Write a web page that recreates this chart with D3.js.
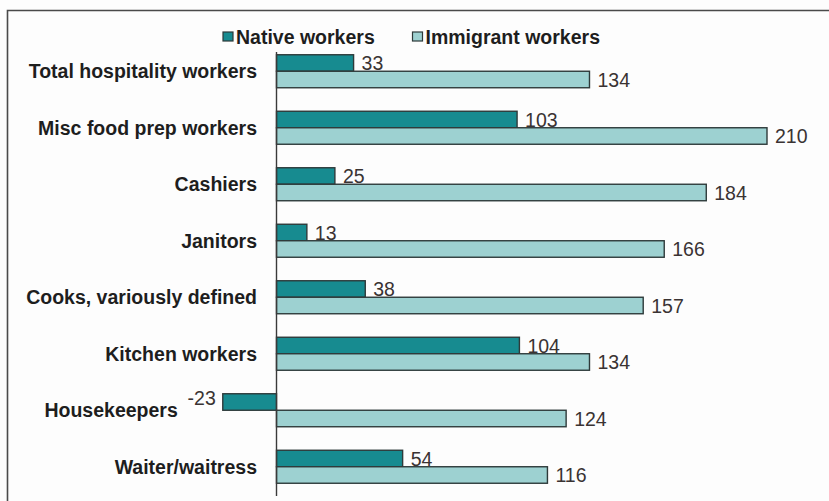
<!DOCTYPE html>
<html>
<head>
<meta charset="utf-8">
<script src="https://cdn.jsdelivr.net/npm/d3@7"></script>
<style>
  html, body { margin: 0; padding: 0; background: #fdfdfd; }
  svg { display: block; }
</style>
</head>
<body>
<svg id="chart" width="829" height="501"></svg>
<script>
// Occupations, top to bottom
const categories = [
  "Total hospitality workers",
  "Misc food prep workers",
  "Cashiers",
  "Janitors",
  "Cooks, variously defined",
  "Kitchen workers",
  "Housekeepers",
  "Waiter/waitress"
];
const seriesNames = ["Native workers", "Immigrant workers"];
const nativeValues = [33, 103, 25, 13, 38, 104, -23, 54];
const immigrantValues = [134, 210, 184, 166, 157, 134, 124, 116];

const colors = { "Native workers": "#178b90", "Immigrant workers": "#9dd1d1" };
const valuesBySeries = { "Native workers": nativeValues, "Immigrant workers": immigrantValues };

const svg = d3.select("#chart");
const fontFamily = "Liberation Sans, Arial, sans-serif";

// Outer frame (top and left edges)
svg.append("path")
  .attr("d", "M7.5,501 L7.5,10.5 L829,10.5")
  .attr("fill", "none")
  .attr("stroke", "#4a4a4a")
  .attr("stroke-width", 1.6);

const x = d3.scaleLinear().domain([0, 210]).range([276.5, 767]);
const y = d3.scaleBand().domain(categories).range([43, 495]).padding(0);
const ySub = d3.scaleBand().domain(seriesNames)
  .range([y.bandwidth() * 0.208, y.bandwidth() * 0.792]);

const rows = [];
categories.forEach((c, i) => {
  seriesNames.forEach(s => rows.push({ cat: c, series: s, value: valuesBySeries[s][i] }));
});

// Bars
svg.append("g").selectAll("rect")
  .data(rows)
  .join("rect")
  .attr("x", d => x(Math.min(0, d.value)))
  .attr("y", d => y(d.cat) + ySub(d.series))
  .attr("width", d => Math.abs(x(d.value) - x(0)))
  .attr("height", ySub.bandwidth())
  .attr("fill", d => colors[d.series])
  .attr("stroke", "#2e3a3a")
  .attr("stroke-width", 1.4);

// Value labels
svg.append("g").selectAll("text")
  .data(rows)
  .join("text")
  .attr("x", d => d.value >= 0 ? x(d.value) + 8 : x(d.value) - 7)
  .attr("y", d => y(d.cat) + ySub(d.series) + ySub.bandwidth() / 2 - (d.value < 0 ? 4 : 0))
  .attr("dy", "0.36em")
  .attr("text-anchor", d => d.value >= 0 ? "start" : "end")
  .attr("font-family", fontFamily)
  .attr("font-size", 19.5)
  .attr("fill", "#3a3333")
  .text(d => d.value);

// Vertical category axis at zero
svg.append("line")
  .attr("x1", x(0)).attr("x2", x(0))
  .attr("y1", 52).attr("y2", 496)
  .attr("stroke", "#3a3a3a")
  .attr("stroke-width", 1.4);

// Category labels, kept clear of any negative bar and its label
const labelEnd = categories.map((c, i) => {
  const minVal = Math.min(nativeValues[i], immigrantValues[i], 0);
  return minVal < 0 ? x(minVal) - 45 : 257;
});
svg.append("g").selectAll("text")
  .data(categories)
  .join("text")
  .attr("x", (d, i) => labelEnd[i])
  .attr("y", d => y(d) + y.bandwidth() / 2)
  .attr("dy", "0.36em")
  .attr("text-anchor", "end")
  .attr("font-family", fontFamily)
  .attr("font-weight", "bold")
  .attr("font-size", 19.5)
  .attr("fill", "#1e1e1e")
  .text(d => d);

// Legend
const legendItems = [
  { name: "Native workers", x: 223 },
  { name: "Immigrant workers", x: 412.5 }
];
const legend = svg.append("g");
legendItems.forEach(item => {
  legend.append("rect")
    .attr("x", item.x).attr("y", 32)
    .attr("width", 10).attr("height", 9)
    .attr("fill", colors[item.name])
    .attr("stroke", "#2e3a3a")
    .attr("stroke-width", 1.2);
  legend.append("text")
    .attr("x", item.x + 13).attr("y", 37)
    .attr("dy", "0.36em")
    .attr("font-family", fontFamily)
    .attr("font-weight", "bold")
    .attr("font-size", 19.5)
    .attr("fill", "#1e1e1e")
    .text(item.name);
});
</script>
</body>
</html>
